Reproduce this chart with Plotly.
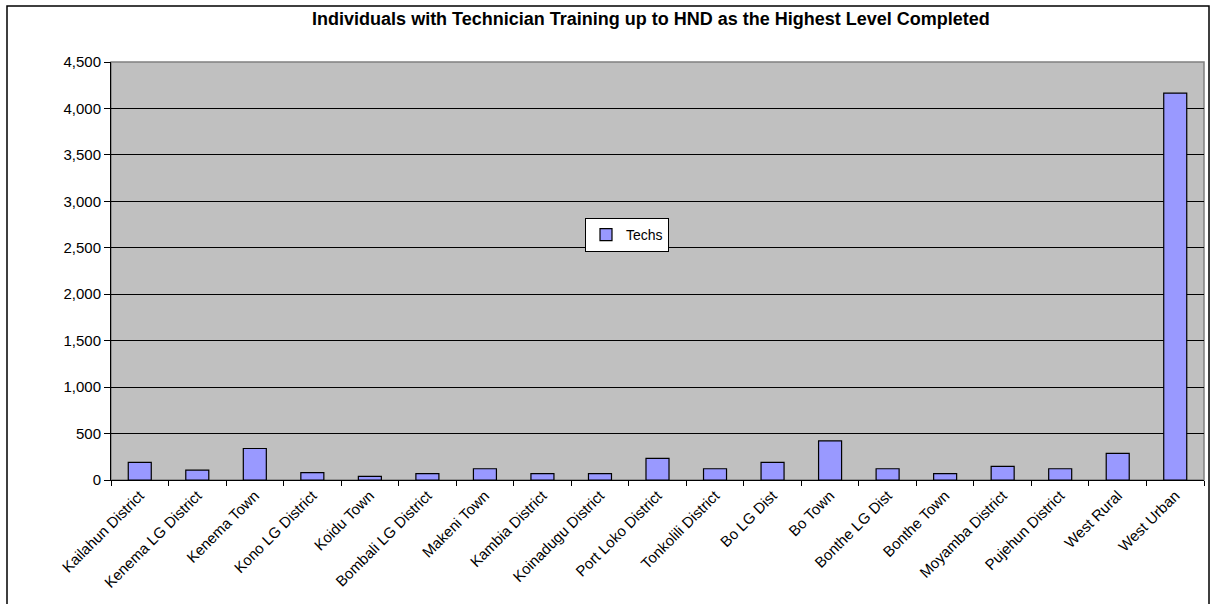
import plotly.graph_objects as go

categories = ["Kailahun District", "Kenema LG District", "Kenema Town", "Kono LG District",
              "Koidu Town", "Bombali LG District", "Makeni Town", "Kambia District",
              "Koinadugu District", "Port Loko District", "Tonkolili District", "Bo LG Dist",
              "Bo Town", "Bonthe LG Dist", "Bonthe Town", "Moyamba District",
              "Pujehun District", "West Rural", "West Urban"]
techs = [189, 107, 339, 79, 39, 68, 121, 68, 68, 232, 121, 189, 421, 121, 68, 146, 121, 286, 4165]
y_ticks = [0, 500, 1000, 1500, 2000, 2500, 3000, 3500, 4000, 4500]

FONT = "Arial, Liberation Sans, sans-serif"

W, H = 1212, 604
# plot area in page coordinates
PL, PR, PT, PB = 111, 1204, 62, 480
pw, ph = PR - PL, PB - PT


def px(x):
    return (x - PL) / pw


def py(y):
    return (PB - y) / ph


fig = go.Figure()
fig.add_trace(go.Bar(
    x=categories, y=techs, name="Techs",
    marker=dict(color="#9999FF", line=dict(color="#000000", width=1.2)),
))

fig.update_layout(
    width=W, height=H,
    margin=dict(l=PL, r=W - PR, t=PT, b=H - PB, pad=0),
    paper_bgcolor="white", plot_bgcolor="#C0C0C0",
    bargap=0.6,
    font=dict(family=FONT, size=14, color="black"),
    title=dict(text="<b>Individuals with Technician Training up to HND as the Highest Level Completed</b>",
               x=651 / W, xanchor="center", y=1 - 19 / H, yanchor="middle",
               font=dict(family=FONT, size=18, color="black")),
    showlegend=True,
    legend=dict(x=px(627), y=py(235), xanchor="center", yanchor="middle",
                bgcolor="white", bordercolor="black", borderwidth=1,
                font=dict(family=FONT, size=14), itemwidth=30,
                tracegroupgap=0),
    xaxis=dict(type="category", tickangle=-45, tickson="boundaries",
               ticks="outside", ticklen=5, tickcolor="#000000",
               showline=True, linecolor="#000000", linewidth=1,
               showgrid=False, tickfont=dict(family=FONT, size=15)),
    yaxis=dict(range=[0, 4500], tickvals=y_ticks, tickformat=",",
               ticks="outside", ticklen=6, tickcolor="#000000",
               showline=True, linecolor="#000000", linewidth=1,
               showgrid=True, gridcolor="#000000", gridwidth=1,
               zeroline=False, tickfont=dict(family=FONT, size=15)),
    shapes=[
        dict(type="rect", xref="paper", yref="paper", x0=0, x1=1, y0=0, y1=1,
             line=dict(color="#808080", width=1.5), layer="below"),
        dict(type="rect", xref="paper", yref="paper",
             x0=px(7), x1=px(1209), y0=py(6), y1=py(640),
             line=dict(color="#000000", width=1.5)),
    ],
)

fig.write_html("out.html",
               config={"displayModeBar": False},
               post_script="document.body.style.margin='0';document.body.style.overflow='hidden';")
